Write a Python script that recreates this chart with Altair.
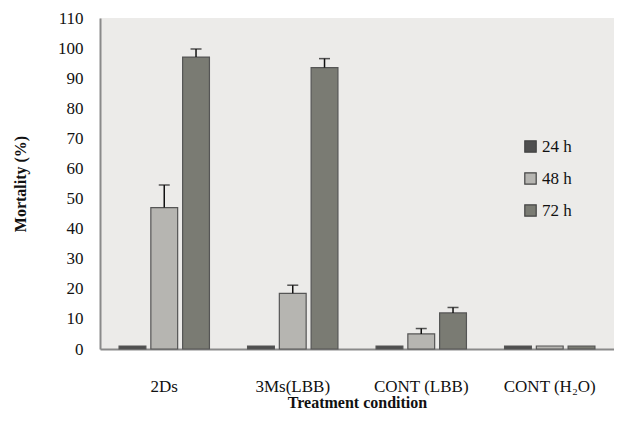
import altair as alt
import pandas as pd

conditions = ["2Ds", "3Ms(LBB)", "CONT (LBB)", "CONT (H₂O)"]
times = ["24 h", "48 h", "72 h"]
values = {
    "24 h": [1, 1, 1, 1],
    "48 h": [47, 18.5, 5, 1],
    "72 h": [97, 93.5, 12, 1],
}
errors = {
    "24 h": [0, 0, 0, 0],
    "48 h": [7.5, 2.7, 1.8, 0],
    "72 h": [2.7, 3.0, 1.8, 0],
}
colors = ["#4f4f4f", "#b6b5b1", "#7a7b73"]

rows = []
for t in times:
    for i, c in enumerate(conditions):
        v = values[t][i]
        e = errors[t][i]
        rows.append({"cond": c, "time": t, "v": v, "hi": v + e, "e": e})
df = pd.DataFrame(rows)
serif = "Liberation Serif"

xaxis = alt.Axis(labelAngle=0, labelPadding=29, titlePadding=0)
yaxis = alt.Axis(values=list(range(0, 111, 10)), labelPadding=17, titlePadding=29, labelOverlap=False)
x = alt.X("cond:N", sort=conditions, title="Treatment condition",
          scale=alt.Scale(paddingInner=0, paddingOuter=0), axis=xaxis)
xo = alt.XOffset("time:N", sort=times, scale=alt.Scale(paddingInner=0.156, paddingOuter=0.6))
yscale = alt.Scale(domain=[0, 110], nice=False)

base = alt.Chart(df)
bars = base.mark_bar(stroke="#555555", strokeWidth=1.2).encode(
    x=x, xOffset=xo,
    y=alt.Y("v:Q", title="Mortality  (%)", scale=yscale, axis=yaxis),
    color=alt.Color("time:N", sort=times, scale=alt.Scale(domain=times, range=colors),
                    legend=alt.Legend(title=None, orient="none", legendX=422, legendY=120)),
)
err_df = base.transform_filter("datum.e > 0")
rules = err_df.mark_rule(color="#111", strokeWidth=1.5).encode(
    x=x, xOffset=xo,
    y=alt.Y("v:Q", title="Mortality  (%)", scale=yscale, axis=yaxis), y2="hi:Q")
caps = err_df.mark_tick(color="#111", thickness=1.5, size=11, orient="horizontal").encode(
    x=x, xOffset=xo,
    y=alt.Y("hi:Q", title="Mortality  (%)", scale=yscale, axis=yaxis))

chart = (bars + rules + caps).properties(
    width=514, height=331,
    autosize=alt.AutoSizeParams(type="none"),
    padding={"left": 92, "top": 10, "right": 0, "bottom": 64},
    background="white",
).configure_view(fill="#ecebe9", stroke=None).configure_axis(
    labelFont=serif, labelFontSize=17, labelColor="#111",
    titleFont=serif, titleFontSize=16, titleFontWeight="bold", titleColor="#111",
    ticks=False, grid=False, domainColor="#8a8a8a", domainWidth=2,
).configure_legend(
    symbolType="square", symbolSize=130, symbolStrokeColor="#444",
    symbolStrokeWidth=1.2, labelFont=serif, labelFontSize=17,
    labelColor="#111", rowPadding=14, labelOffset=3,
)

chart.save("out.html", embed_options={"renderer": "svg", "actions": False})
